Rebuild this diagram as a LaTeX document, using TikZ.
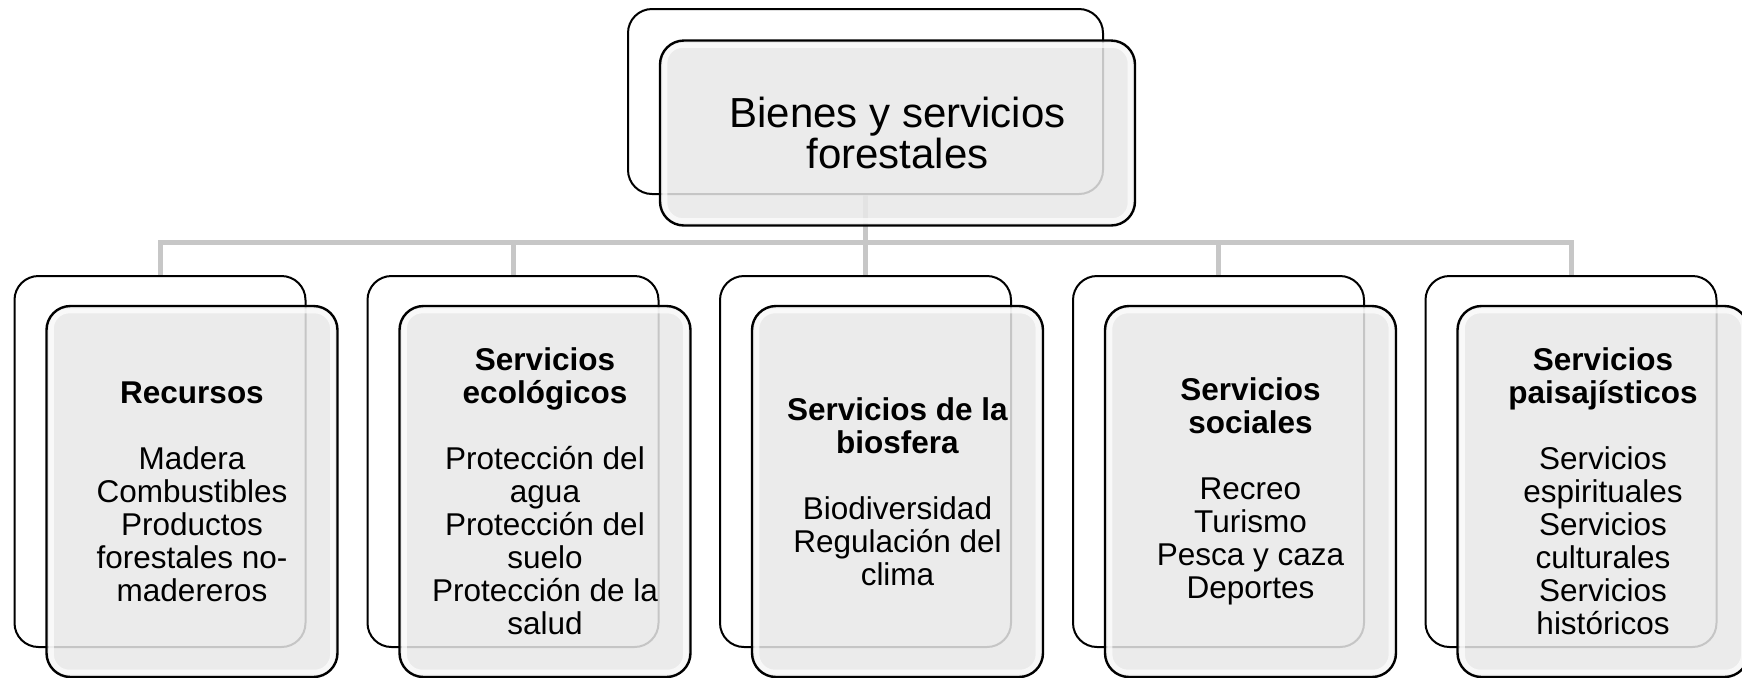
\documentclass[tikz,border=0pt]{standalone}
\usepackage{fontspec}
\setmainfont{Liberation Sans}
\usepackage{tikz}
\tikzstyle{back}=[rectangle, rounded corners=12pt, draw, line width=1pt, fill=white, minimum width=145.5pt, minimum height=185.5pt]
\tikzstyle{front}=[rectangle, rounded corners=12pt, draw, line width=1.2pt, fill=black!9, fill opacity=0.85, text opacity=1, minimum width=145.5pt, minimum height=185.5pt, align=center, font=\fontsize{15.75}{16.5}\selectfont]
\tikzstyle{rootback}=[back, minimum width=237.5pt, minimum height=92.5pt]
\tikzstyle{rootfront}=[front, minimum width=237.5pt, minimum height=92.5pt, font=\fontsize{21}{20.5}\selectfont]
\tikzstyle{conn}=[draw=black!22, line width=2.5pt]
\tikzstyle{gloss}=[draw=white, line width=2.5pt, opacity=0.7, rounded corners=9pt]

\begin{document}
\begin{tikzpicture}[x=0.5pt, y=-0.5pt]
                \useasboundingbox (0,0) rectangle (1742,677);
                \coordinate (bar) at (865.5, 242);
                \node[rootback] (0b) at (865.5, 101.5) {};
                \node[back] (1b) at ( 160, 461.5) {};
                \node[back] (2b) at ( 513, 461.5) {};
                \node[back] (3b) at ( 865.5, 461.5) {};
                \node[back] (4b) at (1218.5, 461.5) {};
                \node[back] (5b) at (1571, 461.5) {};
                \draw[conn] (0b.south) -- (bar) -| (1b.north);
                \draw[conn] (bar) -| (2b.north);
                \draw[conn] (bar) -- (3b.north);
                \draw[conn] (bar) -| (4b.north);
                \draw[conn] (bar) -| (5b.north);
                \node[rootfront] (0) at (897.5, 133) {Bienes y servicios\\forestales};
                \node[front] (1) at ( 192, 491.5) {\textbf{Recursos}\\[16.5pt]Madera\\Combustibles\\Productos\\forestales no-\\madereros};
                \node[front] (2) at ( 545, 491.5) {\textbf{Servicios}\\\textbf{ecológicos}\\[16.5pt]Protección del\\agua\\Protección del\\suelo\\Protección de la\\salud};
                \node[front] (3) at ( 897.5, 491.5) {\textbf{Servicios de la}\\\textbf{biosfera}\\[16.5pt]Biodiversidad\\Regulación del\\clima};
                \node[front] (4) at (1250.5, 491.5) {\textbf{Servicios}\\\textbf{sociales}\\[16.5pt]Recreo\\Turismo\\Pesca y caza\\Deportes};
                \node[front] (5) at (1603, 491.5) {\textbf{Servicios}\\\textbf{paisajísticos}\\[16.5pt]Servicios\\espirituales\\Servicios\\culturales\\Servicios\\históricos};
                % soft highlight inside the front boxes
                \draw[gloss] ([shift={(3pt,-3pt)}]0.north west) rectangle ([shift={(-3pt,3pt)}]0.south east);
                \draw[gloss] ([shift={(3pt,-3pt)}]1.north west) rectangle ([shift={(-3pt,3pt)}]1.south east);
                \draw[gloss] ([shift={(3pt,-3pt)}]2.north west) rectangle ([shift={(-3pt,3pt)}]2.south east);
                \draw[gloss] ([shift={(3pt,-3pt)}]3.north west) rectangle ([shift={(-3pt,3pt)}]3.south east);
                \draw[gloss] ([shift={(3pt,-3pt)}]4.north west) rectangle ([shift={(-3pt,3pt)}]4.south east);
                \draw[gloss] ([shift={(3pt,-3pt)}]5.north west) rectangle ([shift={(-3pt,3pt)}]5.south east);
            \end{tikzpicture}
\end{document}
